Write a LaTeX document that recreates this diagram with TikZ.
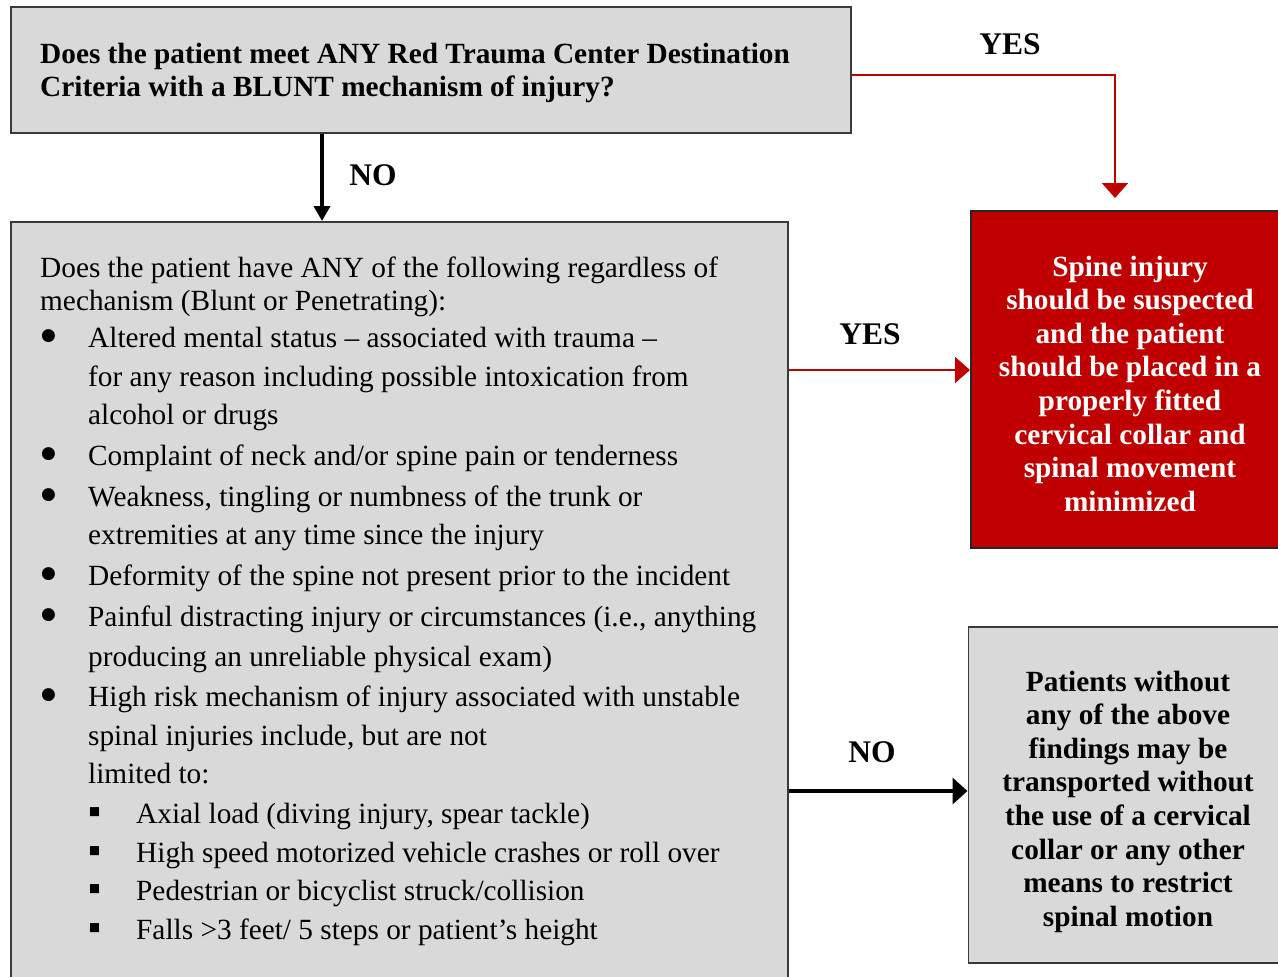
\documentclass[tikz,border=0pt]{standalone}
\usepackage{fontspec}
\usepackage{graphicx}
\setmainfont{Liberation Serif}
\newfontfamily\symfont{DejaVu Sans}
\usetikzlibrary{arrows.meta}
\definecolor{boxgray}{HTML}{D9D9D9}
\definecolor{boxred}{HTML}{C00000}
\definecolor{edgegray}{HTML}{3A3A3A}
\newcommand{\bodyfont}{\fontsize{29.3}{33.6}\selectfont}
\newcommand{\labelfont}{\fontsize{31.5}{36}\selectfont\bfseries}
\newcommand{\bigbullet}{\raisebox{7pt}{\symfont\fontsize{17}{17}\selectfont ●}}
\newcommand{\sqbullet}{\scalebox{1.25}{▪}}
\begin{document}
\begin{tikzpicture}[x=1pt,y=-1pt,
  graybox/.style={draw=edgegray, line width=1.5pt, fill=boxgray, inner sep=0pt, anchor=north west},
  redbox/.style={draw=black!85, line width=1.5pt, fill=boxred, inner sep=0pt, anchor=north west},
  txt/.style={anchor=base west, inner sep=0pt, font=\bodyfont},
  btxt/.style={anchor=base west, inner sep=0pt, font=\bodyfont\bfseries},
  ctxt/.style={anchor=base, inner sep=0pt, font=\bodyfont\bfseries},
  lbl/.style={anchor=base, inner sep=0pt, font=\labelfont},
  redarrow/.style={draw=boxred, line width=2pt, -{Triangle[width=26pt,length=15pt]}},
  blackarrow/.style={draw=black, line width=4pt, -{Triangle[width=26pt,length=15pt]}},
]
\useasboundingbox (0,0) rectangle (1278,977);
\fill[white] (0,0) rectangle (1278,977);
\clip (0,0) rectangle (1278,977);

% boxes
\node[graybox, minimum width=840pt, minimum height=126pt] (q1) at (10,6) {};
\node[graybox, minimum width=777pt, minimum height=790pt] (q2) at (10,221) {};
\node[redbox, minimum width=330pt, minimum height=337pt] (spine) at (970,210) {};
\node[graybox, minimum width=330pt, minimum height=336pt] (nospine) at (967.5,626) {};

% top question
\node[btxt] (t1) at (40,63) {Does the patient meet ANY Red Trauma Center Destination};
\node[btxt] (t2) at (40,96) {Criteria with a BLUNT mechanism of injury?};

% main question
\node[txt] (m1) at (40,277) {Does the patient have ANY of the following regardless of};
\node[txt] (m2) at (40,310) {mechanism (Blunt or Penetrating):};

\foreach \y [count=\i] in {347,465,506,585,626,706}
  \node[txt] (b\i) at (41,\y) {\bigbullet};
\foreach \y [count=\i] in {823,862,900,939}
  \node[txt] (s\i) at (88,\y) {\sqbullet};

\node[txt] (a1) at (88,347) {Altered mental status – associated with trauma –};
\node[txt] (a2) at (88,386) {for any reason including possible intoxication from};
\node[txt] (a3) at (88,424) {alcohol or drugs};
\node[txt] (c1) at (88,465) {Complaint of neck and/or spine pain or tenderness};
\node[txt] (w1) at (88,506) {Weakness, tingling or numbness of the trunk or};
\node[txt] (w2) at (88,544) {extremities at any time since the injury};
\node[txt] (d1) at (88,585) {Deformity of the spine not present prior to the incident};
\node[txt] (p1) at (88,626) {Painful distracting injury or circumstances (i.e., anything};
\node[txt] (p2) at (88,666) {producing an unreliable physical exam)};
\node[txt] (h1) at (88,706) {High risk mechanism of injury associated with unstable};
\node[txt] (h2) at (88,745) {spinal injuries include, but are not};
\node[txt] (h3) at (88,783) {limited to:};
\node[txt] (x1) at (136,823) {Axial load (diving injury, spear tackle)};
\node[txt] (x2) at (136,862) {High speed motorized vehicle crashes or roll over};
\node[txt] (x3) at (136,900) {Pedestrian or bicyclist struck/collision};
\node[txt] (x4) at (136,939) {Falls >3 feet/ 5 steps or patient’s height};

% red box text
\foreach \t [count=\i] in {Spine injury, should be suspected, and the patient, should be placed in a, properly fitted, cervical collar and, spinal movement, minimized}
  \node[ctxt, text=white] (r\i) at (1130,276+33.6*\i-33.6) {\t};

% gray right box text
\foreach \t [count=\i] in {Patients without, any of the above, findings may be, transported without, the use of a cervical, collar or any other, means to restrict, spinal motion}
  \node[ctxt] (g\i) at (1128,691+33.6*\i-33.6) {\t};

% labels
\node[lbl] (yes1) at (1010,54) {YES};
\node[lbl] (no1) at (373,185) {NO};
\node[lbl] (yes2) at (870,344) {YES};
\node[lbl] (no2) at (872,762) {NO};

% connectors
\coordinate (downx) at (322,0);
\coordinate (yesx) at (1115,0);
\coordinate (yesy) at (0,75);
\coordinate (midy) at (0,370);
\coordinate (noy) at (0,791);
\draw[blackarrow, -{Triangle[width=16pt,length=15pt]}] (q1.south -| downx) -- (q2.north -| downx);
\draw[redarrow, shorten >=12pt] (q1.east |- yesy) -| (spine.north -| yesx);
\draw[redarrow] (q2.east |- midy) -- (spine.west |- midy);
\draw[blackarrow] (q2.east |- noy) -- (nospine.west |- noy);
\end{tikzpicture}
\end{document}
